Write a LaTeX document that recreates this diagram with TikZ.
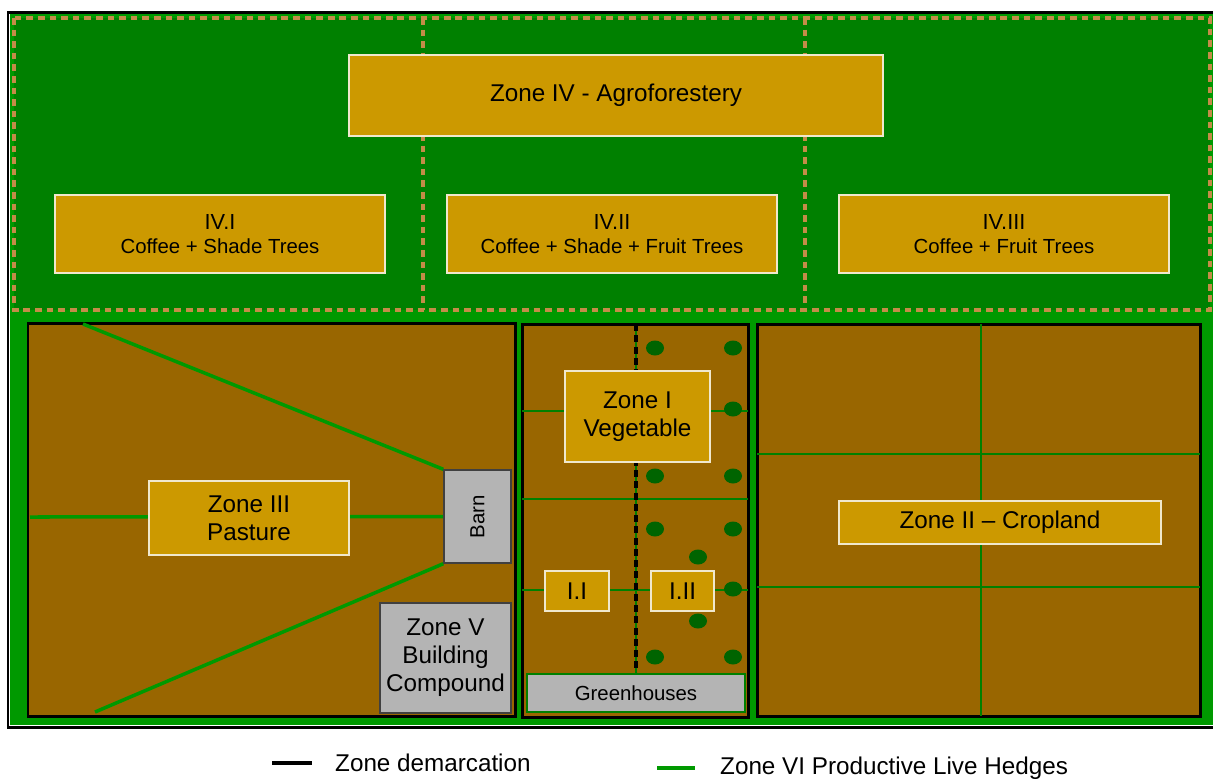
\documentclass[tikz,border=0pt]{standalone}
\usepackage{fontspec}
\setmainfont{Liberation Sans}
\usetikzlibrary{positioning}

\definecolor{hedge}{RGB}{0,153,0}
\definecolor{forest}{RGB}{0,128,0}
\definecolor{soil}{RGB}{153,102,0}
\definecolor{gold}{RGB}{204,153,0}
\definecolor{cream}{RGB}{240,232,205}
\definecolor{tanline}{RGB}{196,140,72}
\definecolor{shed}{RGB}{180,180,180}
\definecolor{leaf}{RGB}{0,100,0}

\pgfdeclarelayer{back}
\pgfdeclarelayer{mid}
\pgfsetlayers{back,mid,main}

\newcommand{\bigtxt}{\fontsize{13.8}{16}\selectfont}
\newcommand{\smalltxt}{\fontsize{11.6}{14}\selectfont}

\begin{document}
\begin{tikzpicture}[x=0.02cm,y=-0.02cm,
  zonebox/.style={draw=cream,fill=gold,line width=0.7pt,inner sep=0pt,align=center,font=\bigtxt},
  subbox/.style={zonebox,font=\smalltxt,minimum width=6.6cm,minimum height=1.56cm},
  shedbox/.style={draw=black!75,fill=shed,line width=0.8pt,inner sep=0pt,align=center,font=\bigtxt},
  demarc/.style={draw=black,line width=1.7pt},
  livehedge/.style={draw=hedge,line width=2pt},
  thinhedge/.style={draw=forest,line width=1pt},
  subzone/.style={draw=tanline,line width=2.1pt,dash pattern=on 3.8pt off 2.8pt},
  plot/.style={fill=soil,demarc},
  tree/.style={fill=leaf}]

\useasboundingbox (0,0) rectangle (1213,779);

% zone IV labels
\node[zonebox,minimum width=10.68cm,minimum height=1.62cm] (zone4) at (616,95.5) {Zone IV - Agroforestery};
\node[subbox] (iv1) at (220,234) {{\fontsize{12.4}{14}\selectfont IV.I}\\Coffee + Shade Trees};
\node[subbox] (iv2) at (612,234) {{\fontsize{12.4}{14}\selectfont IV.II}\\Coffee + Shade + Fruit Trees};
\node[subbox] (iv3) at (1004,234) {{\fontsize{12.4}{14}\selectfont IV.III}\\Coffee + Fruit Trees};

% pasture
\node[zonebox,minimum width=4cm,minimum height=1.48cm] (zone3) at (249,518) {Zone III\\Pasture};
\node[shedbox,font=\smalltxt,minimum width=1.34cm,minimum height=1.86cm] (barn) at (477.5,516.5) {\rotatebox{90}{Barn}};
\node[shedbox,minimum width=2.62cm,minimum height=2.2cm] (zone5) at (445.5,658) {Zone V\\Building\\Compound};

% vegetables
\node[zonebox,minimum width=2.9cm,minimum height=1.82cm] (zone1) at (637.5,416.5) {Zone I\\Vegetable};
\node[zonebox,minimum width=1.28cm,minimum height=0.8cm] (i1) at (577,591) {I.I};
\node[zonebox,minimum width=1.26cm,minimum height=0.8cm] (i2) at (682.5,591) {I.II};
\node[shedbox,draw=forest,font=\smalltxt,minimum width=4.36cm,minimum height=0.76cm] (greenh) at (636,693) {Greenhouses};

% cropland
\node[zonebox,minimum width=6.44cm,minimum height=0.86cm] (zone2) at (1000,522.5) {Zone II -- Cropland};

% legend
\node[anchor=west,font=\bigtxt] (demlbl) at (329,763) {Zone demarcation};
\node[anchor=west,font=\bigtxt] (hedlbl) at (714,768) {Zone VI Productive Live Hedges};
\draw[demarc,line width=2.2pt] (demlbl.west) ++(-57,0) -- ++(40,0);
\draw[livehedge,line width=2.6pt] (hedlbl.west) ++(-57,0) -- ++(38,0);

\begin{pgfonlayer}{back}
\fill[hedge] (10,14) rectangle (1214,725);
\draw[demarc] (8,12) rectangle (1214,727);
\draw[subzone,fill=forest] (14,18) rectangle (1210,310);
\draw[subzone] (423,18) -- (423,310);
\draw[subzone] (805,18) -- (805,310);
\draw[plot] (28,323) rectangle (515,716);
\draw[plot] (522,324) rectangle (748,717);
\draw[plot] (757,324) rectangle (1200,716);
\end{pgfonlayer}

\begin{pgfonlayer}{mid}
\coordinate (p1) at (83,324);
\coordinate (p2) at (30,517);
\coordinate (p3) at (95,712);
\draw[livehedge] (p1) -- (barn.north west);
\draw[livehedge] (p2) -- (barn.west);
\draw[livehedge] (p3) -- (barn.south west);
% vegetable beds
\draw[thinhedge] (522,411) -- (748,411);
\draw[thinhedge] (522,499) -- (748,499);
\draw[thinhedge] (522,590) -- (748,590);
\draw[thinhedge] (636,324) -- (greenh.north);
\draw[demarc,line width=2.3pt,dash pattern=on 4pt off 2.4pt] (636,324) -- (greenh.north);
\foreach \x/\y in {655/348,733/348,698/378,733/409,655/476,733/476,655/529,733/529,698/557,733/589,698/621,655/657,733/657}
  \fill[tree] (\x,\y) ellipse [x radius=0.18cm,y radius=0.15cm];
% crop grid
\draw[thinhedge] (981,324) -- (981,716);
\draw[thinhedge] (757,454) -- (1200,454);
\draw[thinhedge] (757,587) -- (1200,587);
\end{pgfonlayer}
\end{tikzpicture}
\end{document}
